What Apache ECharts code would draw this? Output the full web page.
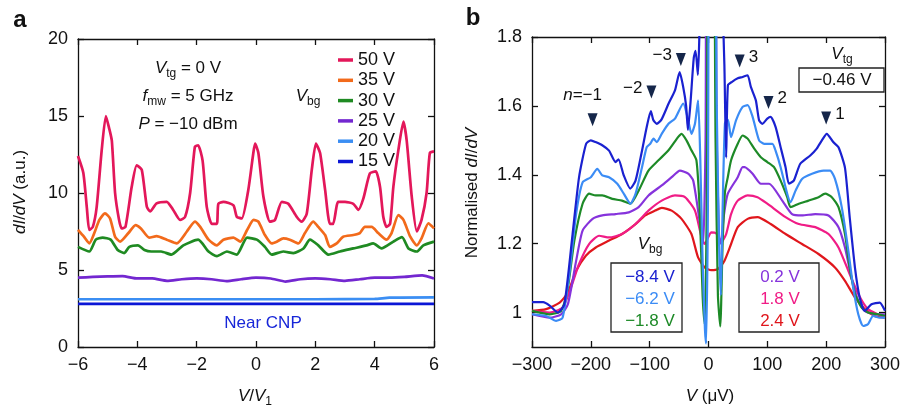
<!DOCTYPE html>
<html>
<head>
<meta charset="utf-8">
<script src="https://cdn.jsdelivr.net/npm/echarts@6.0.0/dist/echarts.min.js"></script>
<style>
  html, body { margin: 0; padding: 0; background: #fff; }
  #chart { width: 903px; height: 409px; }
</style>
</head>
<body>
<div id="chart"></div>
<script>
// ---- panel a : dI/dV vs V/V1 for several back-gate voltages ----
const legendA = ['50 V', '35 V', '30 V', '25 V', '20 V', '15 V'];
const colorsA = ['#e3175a', '#f26a1b', '#1f8a22', '#7327d0', '#3b8ef3', '#0b16d6'];

const a50 = [[-6,12.4],[-5.82,11.3],[-5.7,9],[-5.62,7.6],[-5.5,7.8],[-5.37,9.1],[-5.2,12.8],[-5.06,15.0],[-4.95,14.2],[-4.86,13.4],
  [-4.75,10.0],[-4.62,8.3],[-4.53,7.7],[-4.4,7.8],[-4.19,10.4],[-4.02,11.8],[-3.85,11.5],[-3.68,9.1],[-3.57,8.8],[-3.35,9.33],
  [-3.01,9.43],[-2.79,8.9],[-2.56,8.25],[-2.39,8.45],[-2.22,10.0],[-2.06,13.0],[-1.95,13.1],[-1.8,12.1],[-1.66,9.1],[-1.49,8.0],
  [-1.32,8.0],[-1.27,9.3],[-1.1,9.43],[-0.76,9.2],[-0.65,8.46],[-0.48,8.35],[-0.26,10.2],[-0.09,12.6],[-0.03,13.2],[0.08,12.6],
  [0.25,9.76],[0.47,8.14],[0.64,8.25],[0.87,9.43],[1.09,9.3],[1.37,8.46],[1.54,8.14],[1.71,8.66],[1.88,11.5],[2.02,13.2],
  [2.16,12.6],[2.33,10.2],[2.49,8.0],[2.6,8.0],[2.77,9.43],[3.0,9.43],[3.28,9.3],[3.45,8.9],[3.62,9.65],[3.84,11.28],
  [4.04,11.4],[4.18,10.4],[4.29,8.46],[4.4,7.8],[4.52,8.0],[4.63,10.4],[4.8,12.8],[4.97,14.63],[5.08,13.4],[5.25,9.76],
  [5.42,7.5],[5.58,8.25],[5.75,10.0],[5.86,12.6],[6.0,12.7]];
const a35 = [[-6,7.6],[-5.8,7.16],[-5.62,6.73],[-5.45,7.4],[-5.28,8.25],[-5.09,8.68],[-4.92,8.35],[-4.75,7.16],[-4.58,6.84],[-4.3,7.4],
  [-4.06,7.92],[-3.88,7.7],[-3.6,7.1],[-3.35,7.2],[-3.01,6.97],[-2.67,6.73],[-2.33,7.5],[-2.06,8.14],[-1.88,7.8],[-1.6,6.97],
  [-1.32,6.6],[-1.1,6.97],[-0.76,7.1],[-0.53,6.84],[-0.3,7.6],[-0.08,8.25],[0.08,8.14],[0.3,7.27],[0.53,6.73],[0.7,6.84],
  [0.92,7.05],[1.14,6.97],[1.43,6.73],[1.65,7.4],[1.93,8.14],[2.1,7.8],[2.33,7.27],[2.49,6.5],[2.72,6.73],[2.94,7.16],
  [3.28,7.27],[3.5,7.4],[3.67,7.8],[3.9,7.8],[4.12,7.4],[4.4,6.97],[4.57,7.4],[4.8,8.57],[4.97,8.25],[5.2,7.16],
  [5.42,6.6],[5.58,7.05],[5.81,8.03],[6.0,7.7]];
const a30 = [[-6,6.5],[-5.62,6.2],[-5.4,6.97],[-5.17,7.1],[-4.9,6.97],[-4.66,6.3],[-4.44,6.1],[-4.27,6.5],[-3.98,6.6],[-3.76,6.3],
  [-3.53,6.2],[-3.2,6.2],[-2.85,6.0],[-2.45,6.6],[-1.95,6.97],[-1.6,6.2],[-1.32,5.9],[-0.98,6.2],[-0.65,6.0],[-0.3,7.1],
  [0.03,6.97],[0.3,6.5],[0.53,6.0],[0.92,6.2],[1.26,6.1],[1.6,6.4],[1.82,6.97],[2.1,6.6],[2.44,6.0],[2.83,6.2],
  [3.28,6.4],[3.73,6.6],[3.95,6.73],[4.23,6.4],[4.63,6.84],[4.92,7.13],[5.14,6.4],[5.42,6.2],[5.64,6.6],[6.0,6.84]];
const a25 = [[-6,4.5],[-5.5,4.55],[-5,4.58],[-4.5,4.6],[-4,4.45],[-3.5,4.45],[-3,4.3],[-2.5,4.4],[-2,4.45],[-1.5,4.4],
  [-1,4.28],[-0.5,4.4],[0,4.5],[0.5,4.45],[1,4.25],[1.5,4.4],[2,4.45],[2.5,4.4],[3,4.3],[3.5,4.4],
  [4,4.5],[4.5,4.5],[5,4.55],[5.6,4.65],[6,4.45]];
const a20 = [[-6,3.1],[-2,3.1],[2,3.1],[4,3.12],[4.5,3.2],[6,3.22]];
const a15 = [[-6,2.8],[6,2.8]];
const seriesA = [a50, a35, a30, a25, a20, a15];

// ---- panel b : normalised dI/dV vs V (uV) ----
const namesB = ['\u22128.4 V', '\u22126.2 V', '\u22121.8 V', '0.2 V', '1.8 V', '2.4 V'];
const colorsB = ['#1a21d0', '#3b8cf5', '#1d8a27', '#8633dc', '#f01c86', '#e0161c'];

const bM84 = [[-300,1.03],[-281,1.03],[-270,1.02],[-256,1.0],[-245,1.024],[-231,1.228],[-220,1.393],[-208,1.49],[-200,1.5],[-192,1.495],
  [-180,1.485],[-169,1.47],[-158,1.437],[-153,1.445],[-144,1.398],[-133,1.36],[-124,1.383],[-113,1.47],[-105,1.539],[-98,1.585],
  [-94,1.56],[-88,1.548],[-80,1.56],[-68,1.606],[-57,1.645],[-49,1.698],[-43,1.655],[-38,1.6],[-35,1.53],[-31,1.6],
  [-25,1.74],[-22,1.76],[-18,1.69],[-15,1.85],[-12,2.3],[15,2.3],[22,2.0],[27,1.72],[30,1.45],[33,1.66],
  [40,1.67],[49.7,1.68],[58,1.684],[66.5,1.689],[72,1.655],[80.5,1.616],[86,1.558],[91.7,1.548],[100,1.563],[105.7,1.568],
  [114,1.539],[122.6,1.48],[131,1.422],[136.7,1.374],[145,1.383],[156,1.432],[173,1.456],[184,1.476],[192.7,1.5],[201,1.519],
  [212,1.495],[221,1.48],[232,1.42],[240,1.277],[249,1.13],[257,1.044],[265.6,1.005],[277,1.024],[291,1.029],[300,1.005]];
const bM62 = [[-300,0.995],[-276,0.99],[-259,0.976],[-248,0.985],[-236.5,1.112],[-225,1.286],[-214,1.378],[-200,1.393],[-189,1.417],[-180.5,1.398],
  [-169,1.393],[-155,1.374],[-144,1.345],[-132.7,1.316],[-124,1.345],[-113,1.422],[-105,1.48],[-99,1.49],[-93.4,1.505],[-88,1.495],
  [-79.5,1.519],[-68,1.548],[-57,1.563],[-43,1.607],[-34.5,1.558],[-29,1.519],[-23,1.548],[-17.7,1.616],[-14,1.45],[-10,1.15],
  [-6,0.95],[-4,0.91],[-1,1.3],[2,2.3],[10,2.3],[14,1.6],[18,1.2],[21,1.05],[24,1.3],[28,1.55],
  [33,1.56],[38.4,1.509],[46.8,1.558],[58,1.597],[66.5,1.602],[75,1.568],[86,1.5],[94.6,1.49],[108.6,1.49],[114,1.47],
  [122.6,1.422],[133.8,1.345],[139.4,1.32],[148,1.354],[159,1.388],[176,1.403],[195.6,1.412],[206.7,1.412],[215,1.388],[226.5,1.306],
  [237.7,1.18],[246,1.073],[254.6,0.995],[263,0.961],[271,0.966],[279.8,0.99],[291,0.985],[300,0.985]];
const bM18 = [[-300,1.005],[-270,0.995],[-250.5,1.005],[-239,1.073],[-228,1.209],[-214,1.316],[-203,1.345],[-191.6,1.34],[-180.5,1.34],[-163.6,1.33],
  [-147,1.325],[-132.7,1.316],[-118.7,1.354],[-102,1.412],[-85,1.442],[-68,1.471],[-51.4,1.51],[-45.8,1.519],[-37.4,1.5],[-29,1.471],
  [-20.5,1.442],[-15,1.3],[-10,1.05],[-6.4,0.966],[-3,1.3],[0,2.3],[8,2.3],[12,1.5],[16,1.05],[20,0.96],
  [24,1.2],[28,1.35],[32.8,1.393],[38.4,1.442],[49.7,1.49],[58,1.514],[66.5,1.505],[77.8,1.476],[89,1.451],[100,1.437],
  [111.4,1.422],[122.6,1.383],[133.8,1.335],[139.4,1.306],[153.5,1.316],[170,1.325],[187,1.335],[198.3,1.345],[209.6,1.335],[221,1.306],
  [232,1.228],[240,1.131],[249,1.054],[260,1.015],[271,1.0],[288,0.995],[300,0.99]];
const bP02 = [[-300,0.995],[-270,0.985],[-250.5,0.995],[-239,1.024],[-225,1.15],[-214,1.238],[-197,1.272],[-180.5,1.282],[-158,1.286],[-135.5,1.291],
  [-118.7,1.306],[-102,1.34],[-79.5,1.369],[-62.6,1.393],[-48.5,1.412],[-34.5,1.403],[-26,1.383],[-17.7,1.296],[-12,1.228],[-9,1.2],
  [-5,1.5],[-2,2.3],[10,2.3],[14,1.5],[18,1.22],[21,1.2],[26,1.28],[32.8,1.345],[49.7,1.393],[58,1.422],
  [61.4,1.422],[75,1.403],[89,1.374],[103,1.374],[125.4,1.325],[142,1.286],[159,1.282],[181.5,1.286],[204,1.282],[221,1.248],
  [232,1.189],[243,1.102],[254.6,1.034],[265.6,1.005],[282.5,0.995],[300,0.995]];
const bP18 = [[-300,1.005],[-270,1.0],[-248,1.015],[-233.7,1.073],[-220,1.141],[-203,1.199],[-186,1.223],[-169,1.218],[-147,1.228],[-124,1.257],
  [-102,1.296],[-79.5,1.325],[-57,1.34],[-40,1.335],[-23,1.296],[-12,1.22],[-6.4,1.199],[0,1.22],[4.7,1.233],[13,1.23],
  [21.5,1.204],[30,1.228],[38.4,1.286],[49.7,1.325],[66.5,1.34],[83.3,1.335],[100,1.316],[131,1.277],[153.5,1.257],[181.5,1.248],
  [204,1.228],[221,1.189],[237.7,1.121],[254.6,1.054],[271,1.01],[288,0.995],[300,0.985]];
const bP24 = [[-300,1.005],[-276,1.01],[-253,1.029],[-239,1.058],[-225,1.121],[-208.5,1.165],[-191.6,1.189],[-169,1.209],[-147,1.228],[-124,1.257],
  [-107.4,1.282],[-90.6,1.296],[-79.5,1.304],[-62.6,1.296],[-45.8,1.272],[-29,1.228],[-17.7,1.16],[-6.4,1.131],[4.7,1.123],[16,1.126],
  [27,1.15],[38.4,1.199],[49.7,1.248],[66.5,1.272],[83.3,1.277],[105.7,1.257],[131,1.228],[159,1.199],[187,1.17],[215,1.131],
  [232,1.092],[249,1.044],[265.6,1.01],[282.5,0.99],[300,0.985]];
const seriesB = [bM84, bM62, bM18, bP02, bP18, bP24];

// peak markers (n index) in panel b
const peakV = [-197, -97, -47, 53, 102, 200];
const peakY = [1.56, 1.64, 1.735, 1.73, 1.61, 1.565];
const peakText = ['{i|n}=\u22121', '\u22122', '\u22123', '3', '2', '1'];
const peakPos = ['top', 'left', 'left', 'right', 'right', 'right'];

const yTicksB = [1, 1.2, 1.4, 1.6, 1.8];

const FONT = 'Liberation Sans';
const INK = '#111';
const minus = v => String(v).replace('-', '\u2212');

function frameAxis(extra) {
    return Object.assign({
        type: 'value',
        axisLine: {show: true, onZero: false, lineStyle: {color: INK, width: 1.3}},
        axisTick: {show: true, inside: true, length: 6, lineStyle: {color: INK, width: 1.3}},
        axisLabel: {show: false},
        splitLine: {show: false}
    }, extra);
}
function labelled(margin, extra) {
    return Object.assign({
        show: true, color: INK, fontSize: 18, fontFamily: FONT, margin: margin, formatter: minus
    }, extra || {});
}

const rich = {
    i: {fontStyle: 'italic', fontSize: 17, fontFamily: FONT, lineHeight: 24, color: INK},
    s: {fontSize: 12, fontFamily: FONT, verticalAlign: 'bottom', lineHeight: 14}
};
function txt(x, y, text, opt) {
    opt = opt || {};
    return {
        type: 'text', x: x, y: y, z: 100, rotation: opt.rotation || 0,
        style: {
            x: 0, y: 0, text: text, rich: rich,
            fill: opt.color || INK,
            font: (opt.weight || 'normal') + ' ' + (opt.size || 17) + 'px "' + FONT + '"',
            fontSize: opt.size || 17, fontWeight: opt.weight || 'normal', fontFamily: FONT,
            lineHeight: 24,
            align: opt.align || 'center', textAlign: opt.align || 'center',
            verticalAlign: 'middle', textVerticalAlign: 'middle'
        }
    };
}
function box(x, y, w, h) {
    return {type: 'rect', z: 90, shape: {x: x, y: y, width: w, height: h},
        style: {fill: '#fff', stroke: '#222', lineWidth: 1.3}};
}

let series = [];
seriesA.forEach((d, k) => {
    series.push({
        name: legendA[k], type: 'line', xAxisIndex: 0, yAxisIndex: 0,
        data: d, showSymbol: false, smooth: 0.2, color: colorsA[k],
        lineStyle: {width: 2.7, color: colorsA[k]}, z: 10 - k
    });
});
seriesB.forEach((d, k) => {
    series.push({
        name: namesB[k], type: 'line', xAxisIndex: 2, yAxisIndex: 2,
        data: d, showSymbol: false, smooth: 0.2, color: colorsB[k],
        lineStyle: {width: 2.2, color: colorsB[k]}, z: 10 - k
    });
});
series.push({
    type: 'scatter', xAxisIndex: 2, yAxisIndex: 2, z: 20,
    symbol: 'triangle', symbolRotate: 180, symbolSize: [10, 13],
    itemStyle: {color: '#15264a', opacity: 1},
    data: peakV.map((v, k) => ({
        value: [v, peakY[k]],
        label: {
            show: true, formatter: peakText[k], position: peakPos[k],
            distance: peakPos[k] === 'top' ? 6 : 4,
            offset: peakPos[k] === 'top' ? [-10, 0] : [0, -4],
            color: INK, opacity: 1, fontSize: 17, fontFamily: FONT, rich: rich
        }
    }))
});

const chart = echarts.init(document.getElementById('chart'), null, {renderer: 'canvas'});
chart.setOption({
    animation: false,
    backgroundColor: '#fff',
    grid: [
        {left: 78, right: 469, top: 39, bottom: 62},
        {left: 532, right: 14, top: 37, bottom: 62}
    ],
    legend: {
        data: legendA, orient: 'vertical', left: 333, top: 46,
        icon: 'rect', itemWidth: 15, itemHeight: 3.5, itemGap: 2.3,
        textStyle: {fontSize: 18, fontFamily: FONT, color: INK}
    },
    xAxis: [
        frameAxis({gridIndex: 0, min: -6, max: 6, interval: 2, position: 'bottom', axisLabel: labelled(9)}),
        frameAxis({gridIndex: 0, min: -6, max: 6, interval: 2, position: 'top'}),
        frameAxis({gridIndex: 1, min: -300, max: 300, interval: 100, position: 'bottom', axisLabel: labelled(9)}),
        frameAxis({gridIndex: 1, min: -300, max: 300, interval: 100, position: 'top'})
    ],
    yAxis: [
        frameAxis({gridIndex: 0, min: 0, max: 20, interval: 5, position: 'left', axisLabel: labelled(10)}),
        frameAxis({gridIndex: 0, min: 0, max: 20, interval: 5, position: 'right'}),
        frameAxis({gridIndex: 1, min: 0.9, max: 1.8, position: 'left',
            axisTick: {show: true, inside: true, length: 6, customValues: yTicksB, lineStyle: {color: INK, width: 1.3}},
            axisLabel: labelled(10, {customValues: yTicksB, formatter: v => String(+v.toFixed(1))})}),
        frameAxis({gridIndex: 1, min: 0.9, max: 1.8, position: 'right',
            axisTick: {show: true, inside: true, length: 6, customValues: yTicksB, lineStyle: {color: INK, width: 1.3}}})
    ],
    series: series,
    graphic: [
        // panel a
        txt(20, 20, 'a', {weight: 'bold', size: 24}),
        txt(188, 68, '{i|V}{s|tg} = 0 V'),
        txt(188, 96, '{i|f}{s|mw} = 5 GHz'),
        txt(188, 124, '{i|P} = \u221210 dBm'),
        txt(308, 96, '{i|V}{s|bg}'),
        txt(263, 323, 'Near CNP', {color: '#1726d8'}),
        txt(255, 396, '{i|V}/{i|V}{s|1}'),
        txt(20, 192, '{i|dI}/{i|dV} (a.u.)', {rotation: Math.PI / 2}),
        // panel b
        txt(473, 18, 'b', {weight: 'bold', size: 24}),
        txt(710, 396, '{i|V} (\u03bcV)'),
        txt(472, 193, 'Normalised {i|dI}/{i|dV}', {rotation: Math.PI / 2}),
        txt(842, 54, '{i|V}{s|tg}'),
        box(799, 68, 85, 24),
        txt(842, 80, '\u22120.46 V'),
        txt(650, 244, '{i|V}{s|bg}'),
        box(611, 263, 71, 69),
        txt(650, 277, namesB[0], {color: colorsB[0]}),
        txt(650, 299, namesB[1], {color: colorsB[1]}),
        txt(650, 321, namesB[2], {color: colorsB[2]}),
        box(739, 263, 80, 69),
        txt(780, 277, namesB[3], {color: colorsB[3]}),
        txt(780, 299, namesB[4], {color: colorsB[4]}),
        txt(780, 321, namesB[5], {color: colorsB[5]})
    ]
});
</script>
</body>
</html>
